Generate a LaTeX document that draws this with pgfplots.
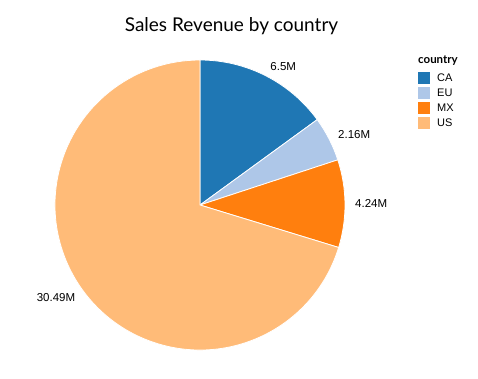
\documentclass[border=0pt]{standalone}
\usepackage{pgfplots}
\pgfplotsset{compat=1.18}
\usepackage{pgfplotstable}
\usepackage{fontspec}
\setmainfont{Liberation Sans}
\newfontfamily\titlefont{Lato}
\definecolor{slice0}{HTML}{1F77B4}
\definecolor{slice1}{HTML}{AEC7E8}
\definecolor{slice2}{HTML}{FF7F0E}
\definecolor{slice3}{HTML}{FFBB78}

\pgfplotstableread{
country value
CA 6.5
EU 2.16
MX 4.24
US 30.49
}\salesdata

% total
\gdef\total{0}
\pgfplotsforeachungrouped \i in {0,...,3}{%
  \pgfplotstablegetelem{\i}{value}\of\salesdata
  \pgfmathsetmacro\tmp{\total+\pgfplotsretval}%
  \xdef\total{\tmp}%
}
% angles (start at top, clockwise)
\gdef\cur{90}
\pgfplotsforeachungrouped \i in {0,...,3}{%
  \pgfplotstablegetelem{\i}{value}\of\salesdata
  \edef\val{\pgfplotsretval}%
  \expandafter\xdef\csname lab\i\endcsname{\val M}%
  \pgfmathsetmacro\endang{\cur-360*\val/\total}%
  \pgfmathsetmacro\midang{(\cur+\endang)/2}%
  \expandafter\xdef\csname angS\i\endcsname{\cur}%
  \expandafter\xdef\csname angE\i\endcsname{\endang}%
  \expandafter\xdef\csname angM\i\endcsname{\midang}%
  \pgfmathparse{cos(\midang)>0 ? "west" : "east"}%
  \expandafter\xdef\csname anc\i\endcsname{\pgfmathresult}%
  \pgfplotstablegetelem{\i}{country}\of\salesdata
  \expandafter\xdef\csname name\i\endcsname{\pgfplotsretval}%
  \xdef\cur{\endang}%
}

\begin{document}
\begin{tikzpicture}
\begin{axis}[
  width=478pt, height=378pt, scale only axis,
  xmin=0, xmax=478, ymin=0, ymax=378,
  hide axis, clip=false,
  legend image code/.code={\fill[draw=none,#1] (0pt,-5.75pt) rectangle (11.5pt,5.75pt);},
  legend style={at={(axis cs:418,306)}, anchor=north west, draw=none, fill=none,
    font=\fontsize{11}{13}\selectfont, inner sep=0pt, row sep=3.5pt,
    nodes={inner sep=0pt, text depth=0pt},
    /tikz/every odd column/.append style={column sep=7.5pt}},
  legend cell align=left,
]
\pgfplotsinvokeforeach{0,...,3}{
  \fill[slice#1, draw=white, line width=0.8pt] (axis cs:200,173) -- ++(\csname angS#1\endcsname:145pt)
    arc[start angle=\csname angS#1\endcsname, end angle=\csname angE#1\endcsname, radius=145pt] -- cycle;
  \node[anchor=\csname anc#1\endcsname, font=\fontsize{11.5}{13}\selectfont, inner sep=0pt]
    at ([shift={(\csname angM#1\endcsname:155pt)}]axis cs:200,173) {\csname lab#1\endcsname};
  \addlegendimage{fill=slice#1}
  \addlegendentry{\csname name#1\endcsname}
}
\node[anchor=base, font=\titlefont\fontsize{19}{21}\selectfont] at (axis cs:231.5,346) {Sales Revenue by country};
\node[anchor=base west, font=\titlefont\bfseries\fontsize{11.5}{13}\selectfont, inner sep=0pt] at (axis cs:418,314) {country};
\end{axis}
\path (current axis.south west) rectangle (current axis.north east);
\end{tikzpicture}
\end{document}
